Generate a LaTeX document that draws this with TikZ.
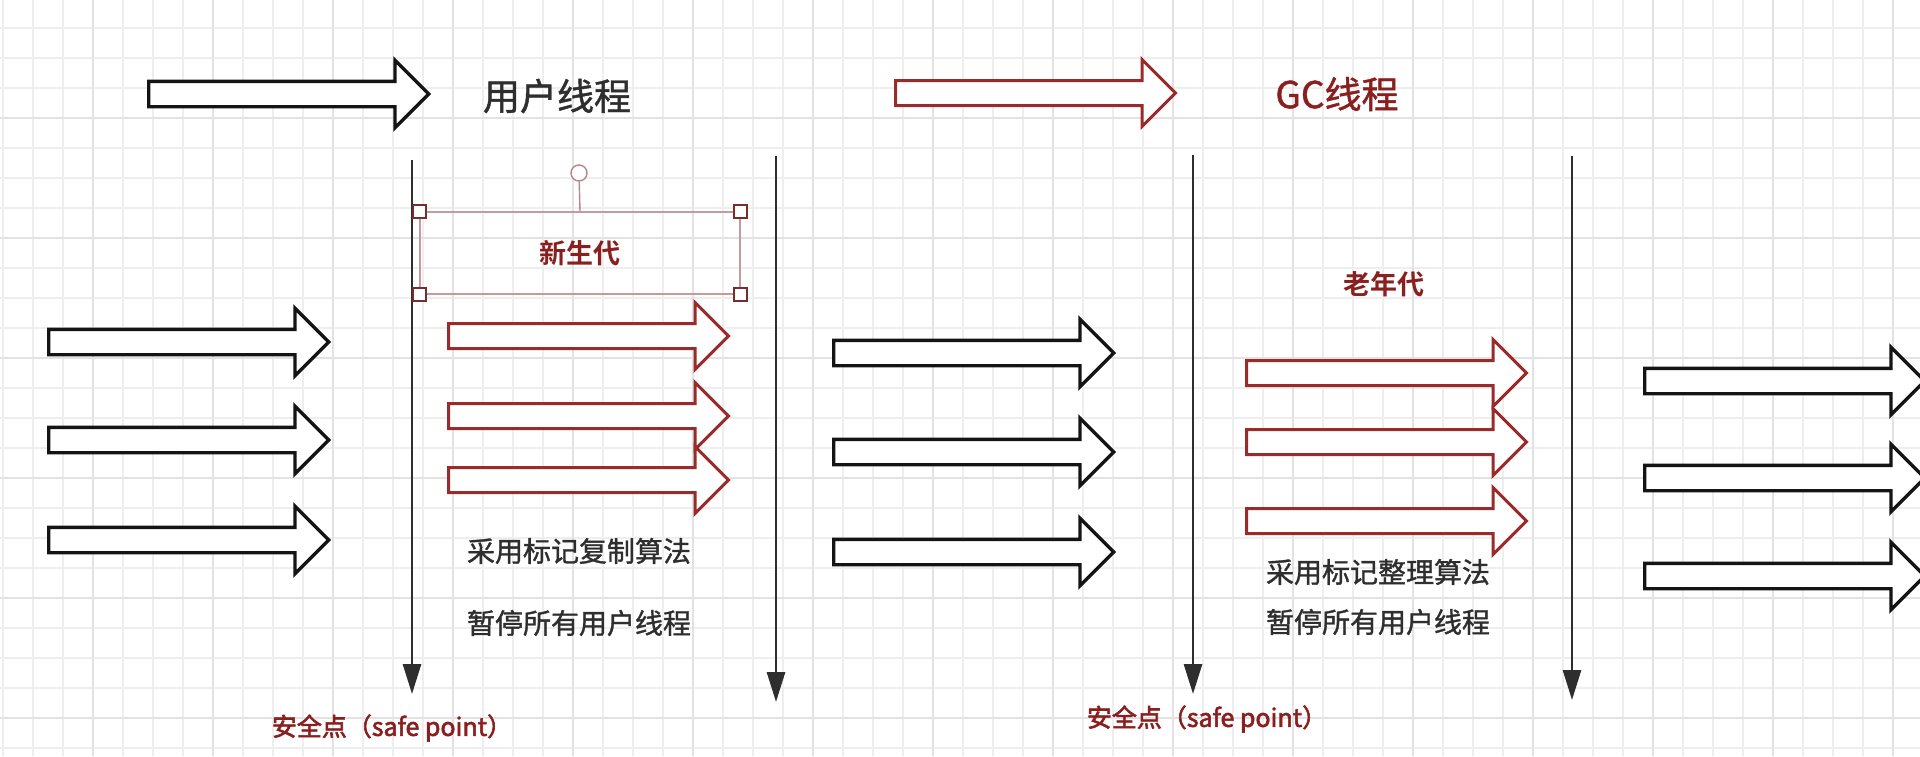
\documentclass[tikz,border=0pt]{standalone}
\usepackage{fontspec}
\newfontfamily\cjk[FakeBold=1.2]{Noto Sans CJK SC}
\newfontfamily\cjkmed[FakeBold=2.4]{Noto Sans CJK SC}
\newfontfamily\cjkbold{Noto Sans CJK SC Bold}
\usepackage{xcolor}
\usetikzlibrary{shapes.arrows, arrows.meta, positioning}

\definecolor{txtgray}{HTML}{2E2E2E}
\definecolor{gcred}{HTML}{8A1F1F}
\definecolor{arrowred}{HTML}{9A2B2B}
\definecolor{selpink}{HTML}{C29C9C}
\definecolor{handlered}{HTML}{7A2C2C}
\definecolor{gridminor}{HTML}{EEEEEE}
\definecolor{gridmajor}{HTML}{E2E2E2}

\begin{document}
\begin{tikzpicture}[
    x=1pt, y=-1pt,
    minorline/.style={draw=gridminor, line width=1.2pt},
    majorline/.style={draw=gridmajor, line width=1.4pt},
    blackarrow/.style={single arrow, draw=black!92, fill=white, line width=3.4pt, minimum height=280pt, inner xsep=0pt, inner ysep=11pt, single arrow head extend=21pt, anchor=tail},
    redarrow/.style={blackarrow, draw=arrowred, line width=3pt},
    safeline/.style={draw=txtgray, line width=2.8pt, -{Triangle[width=18pt, length=30pt]}},
    graytext/.style={font=\cjk\fontsize{28}{32}\selectfont, text=txtgray, inner sep=0pt},
    titletext/.style={font=\cjk\fontsize{37}{42}\selectfont, inner sep=0pt},
    redtext/.style={font=\cjkbold\fontsize{27}{30}\selectfont, text=gcred, inner sep=0pt},
    safetext/.style={font=\cjkmed\fontsize{25}{28}\selectfont, text=gcred, inner sep=0pt},
    selbox/.style={rectangle, draw=selpink, line width=1.2pt, minimum width=320pt, minimum height=82pt},
    handle/.style={rectangle, draw=handlered, fill=white, line width=1.4pt, minimum size=13pt, inner sep=0pt},
    rothandle/.style={circle, draw=selpink!80!handlered, fill=white, line width=1.4pt, minimum size=16pt, inner sep=0pt}
]
\useasboundingbox[fill=white] (0,0) rectangle (1920,756);

% Background grid
\foreach \gx in {3,33,...,1920} \draw[minorline] (\gx,0) -- (\gx,756);
\foreach \gy in {28,58,...,756} \draw[minorline] (0,\gy) -- (1920,\gy);
\foreach \gx in {93,213,...,1920} \draw[majorline] (\gx,0) -- (\gx,756);
\foreach \gy in {118,238,...,756} \draw[majorline] (0,\gy) -- (1920,\gy);

% Legend
\node[blackarrow] (userarr) at (147,94) {};
\node[titletext, text=txtgray] (userlbl) at (557,96) {用户线程};
\node[redarrow] (gcarr) at (894,93) {};
\node[titletext, text=gcred] (gclbl) at (1337,94) {GC线程};

% Safe point lines
\coordinate (s1top) at (412,160);
\coordinate (s1end) at (412,694);
\coordinate (s2top) at (776,156);
\coordinate (s2end) at (776,702);
\coordinate (s3top) at (1193,155);
\coordinate (s3end) at (1193,694);
\coordinate (s4top) at (1572,156);
\coordinate (s4end) at (1572,700);
\draw[safeline] (s1top) -- (s1end);
\draw[safeline] (s2top) -- (s2end);
\draw[safeline] (s3top) -- (s3end);
\draw[safeline] (s4top) -- (s4end);

% User threads before first safe point
\node[blackarrow] (ua1) at (47,342) {};
\node[blackarrow] (ua2) at (47,440) {};
\node[blackarrow] (ua3) at (47,540) {};

% Young generation GC
\node[selbox] (young) at (580,253) {};
\node[redtext] (younglbl) at (580,253) {新生代};
\node[rothandle] (rot) at (579,173) {};
\draw[draw=selpink!80!handlered, line width=1.4pt] (rot) -- (young.north);
\node[handle] (hnw) at (young.north west) {};
\node[handle] (hne) at (young.north east) {};
\node[handle] (hsw) at (young.south west) {};
\node[handle] (hse) at (young.south east) {};

\node[redarrow] (ya1) at (447,336) {};
\node[redarrow] (ya2) at (447,416) {};
\node[redarrow] (ya3) at (447,480) {};
\node[graytext] (copyalg) at (579,551) {采用标记复制算法};
\node[graytext] (pause1) at (579,623) {暂停所有用户线程};

% User threads between
\node[blackarrow] (ub1) at (832,353) {};
\node[blackarrow] (ub2) at (832,452) {};
\node[blackarrow] (ub3) at (832,552) {};

% Old generation GC
\node[redtext] (oldlbl) at (1384,284) {老年代};
\node[redarrow] (oa1) at (1245,373) {};
\node[redarrow] (oa2) at (1245,442) {};
\node[redarrow] (oa3) at (1245,521) {};
\node[graytext] (compactalg) at (1378,572) {采用标记整理算法};
\node[graytext] (pause2) at (1378,622) {暂停所有用户线程};

% User threads after
\node[blackarrow] (uc1) at (1643,381) {};
\node[blackarrow] (uc2) at (1643,478) {};
\node[blackarrow] (uc3) at (1643,576) {};

% Labels
\node[safetext] (safe1) at (392,728) {安全点（safe point）};
\node[safetext] (safe2) at (1207,719) {安全点（safe point）};

\end{tikzpicture}
\end{document}
